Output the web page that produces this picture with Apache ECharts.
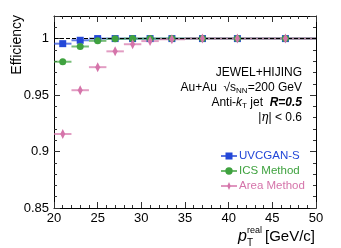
<!DOCTYPE html>
<html><head><meta charset="utf-8">
<script src="https://cdn.jsdelivr.net/npm/echarts@6/dist/echarts.min.js"></script>
<style>html,body{margin:0;padding:0;background:#fff}#c{width:341px;height:248px}</style>
</head><body><div id="c"></div>
<script>
// ---- data ----
const binLo = [20, 22, 24, 26, 28, 30, 32, 35, 39, 43];
const binHi = [22, 24, 26, 28, 30, 32, 35, 39, 43, 50];
const binCenter = [21, 23, 25, 27, 29, 31, 33.5, 37, 41, 46.5];
const uvcgan = [0.9955, 0.9985, 1.0, 1.0, 1.0, 1.0, 1.0, 1.0, 1.0, 1.0];
const ics = [0.9795, 0.993, 0.998, 0.9998, 1.0, 1.0, 1.0, 1.0, 1.0, 1.0];
const area = [0.9155, 0.9543, 0.9747, 0.9887, 0.995, 0.9978, 0.9994, 1.0, 1.0, 1.0];
const seriesNames = ['UVCGAN-S', 'ICS Method', 'Area Method'];
const xTicks = [20, 25, 30, 35, 40, 45, 50];
const yTicks = [0.85, 0.9, 0.95, 1];

const FONT = 'Liberation Sans';
const colors = ['#2347d8', '#3fa23f', '#d574aa'];
const allSeries = [uvcgan, ics, area];
const symbols = ['rect', 'circle', 'path://M0,-5L2.2,0L0,5L-2.2,0Z'];
const symSizes = [7, 7, [5, 10]];
const icons = [
  'path://M0,3.3H16V4.7H0Z M4.5,0.5H11.5V7.5H4.5Z M0,0H0.01V8H0Z',
  'path://M0,3.3H16V4.7H0Z M8,0.3A3.7,3.7 0 1 1 7.99,0.3Z M0,0H0.01V8H0Z',
  'path://M0,3.3H16V4.7H0Z M8,0L9.8,4L8,8L6.2,4Z'
];

const chart = echarts.init(document.getElementById('c'), null, {renderer: 'canvas'});

const series = [];
allSeries.forEach((vals, k) => {
  series.push({
    type: 'custom',
    name: seriesNames[k] + ' err',
    xAxisIndex: 0, yAxisIndex: 0,
    data: binLo.map((lo, i) => [lo, binHi[i], vals[i]]),
    encode: {x: [0, 1], y: 2},
    silent: true,
    z: 2 + k,
    renderItem: function (params, api) {
      const p1 = api.coord([api.value(0), api.value(2)]);
      const p2 = api.coord([api.value(1), api.value(2)]);
      return {type: 'line', shape: {x1: p1[0], y1: p1[1], x2: p2[0], y2: p2[1]},
        style: {stroke: colors[k], lineWidth: 2, opacity: 0.7}};
    }
  });
});
allSeries.forEach((vals, k) => {
  const s = {
    type: 'scatter',
    name: seriesNames[k],
    xAxisIndex: 0, yAxisIndex: 0,
    data: binCenter.map((x, i) => [x, vals[i]]),
    symbol: symbols[k],
    symbolSize: symSizes[k],
    itemStyle: {color: colors[k], opacity: 1},
    z: 5 + k
  };
  if (k === 0) {
    s.markLine = {
      silent: true, symbol: 'none', label: {show: false},
      lineStyle: {color: '#000', type: [4, 2], width: 1},
      data: [{yAxis: 1}]
    };
  }
  series.push(s);
});

const axisCommon = {
  axisLine: {show: true, onZero: false, lineStyle: {color: '#000', width: 1}},
  axisTick: {show: true, inside: true, length: 6, lineStyle: {color: '#333'}},
  minorTick: {show: true, splitNumber: 5, length: 3, lineStyle: {color: '#333'}},
  splitLine: {show: false}
};

chart.setOption({
  animation: false,
  backgroundColor: '#fff',
  grid: {left: 54, right: 25, top: 16, bottom: 40},
  xAxis: [
    Object.assign({type: 'value', position: 'bottom', min: xTicks[0], max: xTicks[xTicks.length - 1], interval: 5,
      axisLabel: {fontFamily: FONT, fontSize: 13, color: '#000', margin: 4}}, axisCommon),
    Object.assign({type: 'value', position: 'top', min: xTicks[0], max: xTicks[xTicks.length - 1], interval: 5,
      axisLabel: {show: false}}, axisCommon)
  ],
  yAxis: [
    Object.assign({type: 'value', position: 'left', min: yTicks[0], max: 1.02, interval: 0.05,
      axisLabel: {fontFamily: FONT, fontSize: 13, color: '#000', margin: 5, showMaxLabel: false,
        formatter: v => (yTicks.some(t => Math.abs(t - v) < 1e-6) ? String(+v.toFixed(2)) : '')}}, axisCommon),
    Object.assign({type: 'value', position: 'right', min: yTicks[0], max: 1.02, interval: 0.05,
      axisLabel: {show: false}}, axisCommon)
  ],
  legend: {
    orient: 'vertical', left: 221, top: 149, padding: 0,
    itemWidth: 16, itemHeight: 8, itemGap: 1,
    textStyle: {fontFamily: FONT, fontSize: 11.5, lineHeight: 14, padding: [0, 0, 0, -3]},
    data: seriesNames.map((n, k) => ({name: n, icon: icons[k], textStyle: {color: colors[k]}}))
  },
  graphic: [
    {type: 'text', x: 302, y: 73, style: {text: 'JEWEL+HIJING', font: '12px "Liberation Sans"', fill: '#000', align: 'right', verticalAlign: 'middle'}},
    {type: 'text', x: 302, y: 88, style: {
      text: 'Au+Au  {r|√}{s|s}{sub|NN}=200 GeV', align: 'right', verticalAlign: 'middle', fill: '#000',
      font: '12px "Liberation Sans"',
      rich: {r: {fontFamily: FONT, fontSize: 12}, s: {fontFamily: FONT, fontSize: 12}, sub: {fontFamily: FONT, fontSize: 8, padding: [6, 0, 0, 0]}}}},
    {type: 'text', x: 302, y: 103, style: {
      text: 'Anti-{i|k}{sub|T} jet  {b|R=0.5}', align: 'right', verticalAlign: 'middle', fill: '#000',
      font: '12px "Liberation Sans"',
      rich: {i: {fontFamily: FONT, fontSize: 12, fontStyle: 'italic'}, sub: {fontFamily: FONT, fontSize: 8, padding: [6, 0, 0, 0]},
        b: {fontFamily: FONT, fontSize: 12, fontStyle: 'italic', fontWeight: 'bold'}}}},
    {type: 'text', x: 302, y: 118, style: {
      text: '|{i|η}| < 0.6', align: 'right', verticalAlign: 'middle', fill: '#000',
      font: '12px "Liberation Sans"',
      rich: {i: {fontFamily: 'DejaVu Serif', fontSize: 12, fontStyle: 'italic'}}}},
    {type: 'text', x: 17, y: 15, rotation: Math.PI / 2, style: {text: 'Efficiency', font: '14px "Liberation Sans"', fill: '#000', align: 'right', verticalAlign: 'middle'}},
    {type: 'text', x: 238, y: 237, style: {text: 'p', font: 'italic 16px "Liberation Sans"', fill: '#000', align: 'left', verticalAlign: 'middle'}},
    {type: 'text', x: 247, y: 231, style: {text: 'real', font: '9px "Liberation Sans"', fill: '#000', align: 'left', verticalAlign: 'middle'}},
    {type: 'text', x: 247, y: 243, style: {text: 'T', font: '10px "Liberation Sans"', fill: '#000', align: 'left', verticalAlign: 'middle'}},
    {type: 'text', x: 265, y: 237, style: {text: '[GeV/c]', font: '15px "Liberation Sans"', fill: '#000', align: 'left', verticalAlign: 'middle'}}
  ],
  series: series
});
</script></body></html>
